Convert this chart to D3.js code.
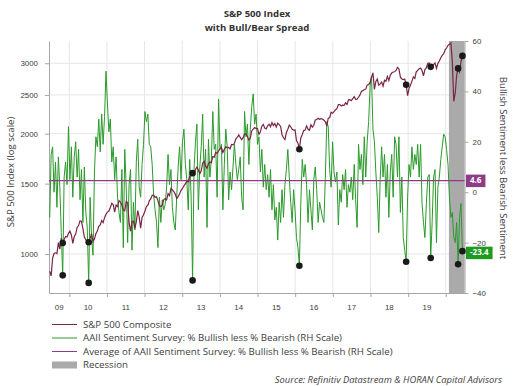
<!DOCTYPE html>
<html lang="en">
<head>
<meta charset="UTF-8">
<title>S&amp;P 500 Index with Bull/Bear Spread</title>
<style>
  body { margin: 0; background: #fff; }
  svg { display: block; font-family: "Open Sans", "Liberation Sans", Arial, sans-serif; }
  .axis text { font-size: 7.9px; fill: #404040; }
  .axis path, .axis line { stroke: #a6a6a6; }
  .grid line { stroke: #e6e6e6; stroke-width: 1; }
</style>
</head>
<body>
<svg width="523" height="386"></svg>

<script src="https://cdnjs.cloudflare.com/ajax/libs/d3/7.8.5/d3.min.js"></script>
<script>

  // survey weeks, every second Thursday from here on
  var firstSurvey = "2009-06-25";

  // S&P 500 on the survey days
  var spx = [
    905, 882, 977, 1003, 1007, 1003, 1068, 1029, 1096, 1066, 1088, 1106, 1103, 1127,
    1141, 1116, 1063, 1106, 1122, 1166, 1178, 1211, 1206, 1157, 1103, 1086, 1073, 1070, 1094, 1125, 1075, 1090, 1125, 1141, 1173, 1183, 1213, 1198, 1233, 1258,
    1273, 1281, 1307, 1340, 1330, 1273, 1326, 1314, 1360, 1348, 1325, 1289, 1283, 1353, 1343, 1200, 1140, 1204, 1209, 1160, 1203, 1284, 1239, 1161, 1234, 1254,
    1281, 1315, 1325, 1358, 1374, 1402, 1403, 1387, 1390, 1358, 1320, 1315, 1325, 1367, 1377, 1366, 1415, 1399, 1459, 1447, 1433, 1412, 1377, 1391, 1414, 1443,
    1459, 1481, 1498, 1521, 1515, 1563, 1569, 1593, 1585, 1626, 1650, 1623, 1588, 1615, 1689, 1706, 1661, 1638, 1683, 1698, 1692, 1752, 1747, 1795, 1785, 1810,
    1832, 1845, 1794, 1829, 1854, 1846, 1849, 1833, 1879, 1875, 1892, 1941, 1959, 1985, 1958, 1931, 1955, 1996, 1997, 1966, 1928, 1950, 2031, 2052, 2071, 2061,
    2059, 1992, 2021, 2088, 2110, 2065, 2056, 2092, 2112, 2081, 2131, 2095, 2121, 2077, 2125, 2108, 2084, 1988, 1953, 1932, 2014, 2052, 2100, 2081, 2050, 2041, 2044,
    1921, 1893, 1829, 1951, 1989, 2036, 2041, 2092, 2051, 2040, 2105, 2077, 2099, 2163, 2170, 2185, 2173, 2181, 2177, 2161, 2141, 2088, 2187, 2192, 2262, 2249,
    2270, 2297, 2307, 2364, 2365, 2346, 2357, 2355, 2389, 2366, 2430, 2433, 2419, 2447, 2475, 2438, 2439, 2466, 2500, 2552, 2562, 2579, 2585, 2648, 2652, 2687,
    2767, 2839, 2581, 2703, 2738, 2644, 2663, 2693, 2630, 2720, 2705, 2782, 2716, 2798, 2837, 2853, 2856, 2878, 2930, 2902, 2768, 2740, 2730, 2738, 2651, 2488,
    2596, 2643, 2706, 2774, 2749, 2854, 2880, 2905, 2918, 2876, 2789, 2892, 2924, 3000, 3004, 2938, 2923, 2977, 3006, 2910, 2998, 3038, 3097, 3140, 3168, 3240,
    3275, 3326, 3345, 3373, 3024, 2409, 2527, 2800, 2912, 2852, 3030, 3130
  ];

  // AAII % bullish less % bearish
  var spread = [
    -10, 15, 18, 0, 12, -6, 14, 2, -16, -33, 6, 12, 3, 26, 5, 18, -2, 14, 20, 6, 17, -3, 9, -12, 10, -8, -14, -36, -2, -18, -25, 8, 22, 18, 29, 16, 31, 19, 30, 48, 35, 24, 29, 12, 18, 5,
    14, -2, -8, -12, 9, -22, 17, 2, -20, 3, 9, -23, -4, -15, 12, 21, 2, -2, 11, 19, 32, 28, 31, 19, 18, 11, -1, -7, -12, -22, -2, -12, -3, -7, -5, 2, 15, 3, 9, -6, -12, -15, -2, 10, 18, 5, 20, 25, 11, 5,
    -7, 13, -2, -35, 9, 20, 27, -7, 10, 18, 31, 6, 17, -14, 21, 6, 13, 32, 17, 19, -2, 37, 17, 19, -7, 11, 25, 18, -3, 8, 1, 10, 19, 11, 5, 9, 14, -2, -7, 32, 22, 27, 11, 25, 34, 39, 27, 31, 19,
    22, 8, 17, 2, 11, 1, 7, -2, 9, -7, 3, -11, -6, -19, -4, -12, 1, -10, 3, 9, 17, 6, -4, -12, 1, -7, -18, -22, -29.2, -4, 13, 6, 11, 3, -12, 1, -7, -15, 5, 10, 1, -12, -4, -7, -10, -12, 6, 28,
    26, 9, 2, 20, 8, 4, 8, -13, 1, -4, 7, 1, 9, -6, 3, 0, 6, -3, 11, -3, -14, 19, 9, 15, 3, 22, 6, 20, 28, 42, 46, 25, 20, 8, -2, -16, 5, 18, 6, 15, -2, 11, -10, 8, 15, -2, 22, 19,
    6, 22, -8, 6, -18, -23, -27.6, -2, 11, 6, 18, 9, 15, 11, 19, 6, 19, -4.5, -12, -18, -4.5, 6, 7, -26.1, -12, 6, 9, -20, 2, 6, 13, 18, 23, 22, 17, 11, -2, -10, -8, -18, -20, -12, -28.6, -10, -4.5, -23.4
  ];

  var spreadAvg = 4.6;
  var lowDates = ["2009-10-29", "2010-07-08", "2013-04-11", "2016-02-11", "2018-12-13", "2019-08-08", "2020-04-30", "2020-06-11"];
  var recession = ["2020-02-01", "2020-07-01"];

  var leftTicks = [1000, 1500, 2000, 2500, 3000];
  var rightTicks = [-40, -20, 0, 20, 40, 60];
  var years = [2009, 2010, 2011, 2012, 2013, 2014, 2015, 2016, 2017, 2018, 2019];
  var yearLabels = ["09", "10", "11", "12", "13", "14", "15", "16", "17", "18", "19"];

  var green = "#2a9a2a";
  var maroon = "#7a2446";
  var purple = "#8e3c86";

  var parse = d3.utcParse("%Y-%m-%d");
  var start = parse(firstSurvey);
  var dates = spx.map(function(d, i) { return d3.utcDay.offset(start, 14 * i); });
  var indexOf = function(s) { return Math.round((parse(s) - start) / (14 * 864e5)); };

  var plot = {left: 49, right: 464.5, top: 41, bottom: 293};

  var x = d3.scaleUtc().domain([parse("2009-06-18"), parse("2020-07-01")]).range([plot.left, plot.right]);
  var yLeft = d3.scaleLog().domain([799, 3410]).range([plot.bottom, plot.top]);
  var yRight = d3.scaleLinear().domain([-40, 60]).range([plot.bottom, plot.top]);

  var svg = d3.select("svg");

  // titles
  svg.append("text").attr("x", 257).attr("y", 17).attr("text-anchor", "middle")
    .style("font-size", "9.6px").style("font-weight", "bold").style("fill", "#333").text("S&P 500 Index");
  svg.append("text").attr("x", 257).attr("y", 31).attr("text-anchor", "middle")
    .style("font-size", "9.6px").style("font-weight", "bold").style("fill", "#333").text("with Bull/Bear Spread");

  // grid
  var yearStarts = d3.range(2010, 2021).map(function(y) { return new Date(Date.UTC(y, 0, 1)); });
  var grid = svg.append("g").attr("class", "grid");
  grid.selectAll(".v").data(yearStarts).enter().append("line")
    .attr("x1", function(d) { return x(d); }).attr("x2", function(d) { return x(d); })
    .attr("y1", plot.top).attr("y2", plot.bottom);
  grid.selectAll(".h").data(leftTicks).enter().append("line")
    .attr("x1", plot.left).attr("x2", plot.right)
    .attr("y1", function(d) { return yLeft(d); }).attr("y2", function(d) { return yLeft(d); });

  // recession
  svg.append("rect")
    .attr("x", x(parse(recession[0])))
    .attr("y", plot.top)
    .attr("width", x(parse(recession[1])) - x(parse(recession[0])))
    .attr("height", plot.bottom - plot.top)
    .attr("fill", "#aaaaaa");

  // axes
  svg.append("g").attr("class", "axis")
    .attr("transform", "translate(" + plot.left + ",0)")
    .call(d3.axisLeft(yLeft).tickValues(leftTicks).tickFormat(d3.format("d")).tickSize(4).tickSizeOuter(0).tickPadding(7));

  svg.append("g").attr("class", "axis")
    .attr("transform", "translate(" + plot.right + ",0)")
    .call(d3.axisRight(yRight).tickValues(rightTicks).tickSize(4).tickSizeOuter(0).tickPadding(4));

  var xAxis = svg.append("g").attr("class", "axis")
    .attr("transform", "translate(0," + plot.bottom + ")")
    .call(d3.axisBottom(x).tickValues(yearStarts).tickFormat("").tickSize(4).tickSizeOuter(0));

  xAxis.selectAll(".year").data(years).enter().append("text")
    .attr("x", function(y) {
      var a = Math.max(x(new Date(Date.UTC(y, 0, 1))), plot.left);
      var b = x(new Date(Date.UTC(y + 1, 0, 1)));
      return (a + b) / 2;
    })
    .attr("y", 17)
    .attr("text-anchor", "middle")
    .text(function(y, i) { return yearLabels[i]; });

  // axis titles
  svg.append("text").attr("transform", "translate(14,172) rotate(-90)").attr("text-anchor", "middle")
    .style("font-size", "9.6px").style("fill", "#404040").text("S&P 500 Index (log scale)");
  svg.append("text").attr("transform", "translate(500,168) rotate(90)").attr("text-anchor", "middle")
    .style("font-size", "9.6px").style("fill", "#404040").text("Bullish Sentiment less Bearish Sentiment");

  // series
  var spreadLine = d3.line()
    .x(function(d, i) { return x(dates[i]); })
    .y(function(d) { return yRight(d); });

  var spxLine = d3.line()
    .x(function(d, i) { return x(dates[i]); })
    .y(function(d) { return yLeft(d); });

  svg.append("path").datum(spread).attr("d", spreadLine)
    .attr("fill", "none").attr("stroke", green).attr("stroke-width", 1);

  svg.append("line")
    .attr("x1", plot.left).attr("x2", plot.right)
    .attr("y1", yRight(spreadAvg)).attr("y2", yRight(spreadAvg))
    .attr("stroke", purple).attr("stroke-width", 1.4);

  svg.append("path").datum(spx).attr("d", spxLine)
    .attr("fill", "none").attr("stroke", maroon).attr("stroke-width", 1.2);

  // low markers on both series
  var lows = lowDates.map(indexOf);
  svg.selectAll(".lowSpread").data(lows).enter().append("circle")
    .attr("cx", function(i) { return x(dates[i]); })
    .attr("cy", function(i) { return yRight(spread[i]); })
    .attr("r", 3.3).attr("fill", "#1a1a1a");
  svg.selectAll(".lowSpx").data(lows).enter().append("circle")
    .attr("cx", function(i) { return x(dates[i]); })
    .attr("cy", function(i) { return yLeft(spx[i]); })
    .attr("r", 3.3).attr("fill", "#1a1a1a");

  // value tags on the right axis
  var tags = [
    {value: spreadAvg, color: purple, dy: 0},
    {value: spread[spread.length - 1], color: "#1e9a1e", dy: 1.5}
  ];
  tags.forEach(function(t) {
    var g = svg.append("g").attr("transform", "translate(466," + (yRight(t.value) + t.dy) + ")");
    var r = g.append("rect").attr("fill", t.color);
    var txt = g.append("text").attr("x", 4).attr("dy", "0.35em")
      .style("font-size", "8px").style("font-weight", "bold").style("fill", "#fff").text(t.value);
    var w = txt.node().getComputedTextLength();
    r.attr("x", 0).attr("y", -6).attr("width", w + 8).attr("height", 12.5);
  });

  // legend
  var legendItems = [
    {label: "S&P 500 Composite", color: maroon, type: "line"},
    {label: "AAII Sentiment Survey: % Bullish less % Bearish (RH Scale)", color: green, type: "line"},
    {label: "Average of AAII Sentiment Survey: % Bullish less % Bearish (RH Scale)", color: purple, type: "line"},
    {label: "Recession", color: "#aaaaaa", type: "box"}
  ];
  var legend = svg.append("g").attr("transform", "translate(52,324.5)");
  legendItems.forEach(function(d, i) {
    var row = legend.append("g").attr("transform", "translate(0," + (i * 13.5) + ")");
    if (d.type === "line") {
      row.append("line").attr("x1", 0).attr("x2", 25).attr("stroke", d.color).attr("stroke-width", 1);
    } else {
      row.append("rect").attr("x", 0).attr("y", -3.5).attr("width", 25).attr("height", 7).attr("fill", d.color);
    }
    row.append("text").attr("x", 31).attr("dy", "0.35em")
      .style("font-size", "9.7px").style("fill", "#404040").text(d.label);
  });

  svg.append("text").attr("x", 502).attr("y", 383).attr("text-anchor", "end")
    .style("font-size", "9.4px").style("font-style", "italic").style("fill", "#404040")
    .text("Source: Refinitiv Datastream & HORAN Capital Advisors");

</script>
</body>
</html>
